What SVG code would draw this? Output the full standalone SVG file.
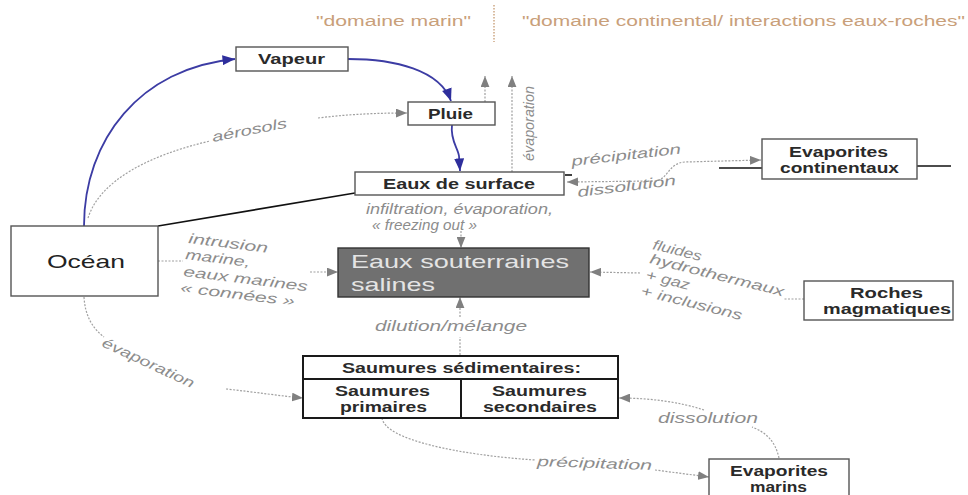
<svg xmlns="http://www.w3.org/2000/svg" width="968" height="495" viewBox="0 0 968 495">
  <style>
    .box { fill: #ffffff; stroke: #555555; stroke-width: 1.4; }
    .tbl { fill: #ffffff; stroke: #1a1a1a; stroke-width: 2; }
    .name { font-family: "Liberation Sans", Arial, sans-serif; font-weight: bold; font-size: 14.5px; fill: #2a2a2a; text-anchor: start; }
    .lbl { font-family: "Liberation Sans", Arial, sans-serif; font-style: italic; font-size: 14px; fill: #8c8c8c; }
    .head { font-family: "Liberation Sans", Arial, sans-serif; font-size: 14px; fill: #c9a07a; }
    .dot { fill: none; stroke: #a0a0a0; stroke-width: 1.2; stroke-dasharray: 2 1.5; }
    .blue { fill: none; stroke: #3c3ca4; stroke-width: 1.8; }
    .solid { fill: none; stroke: #111111; stroke-width: 1.6; }
  </style>
  <defs>
    <marker id="ag" viewBox="0 0 10 8" refX="10" refY="4" markerWidth="11" markerHeight="9" markerUnits="userSpaceOnUse" orient="auto-start-reverse">
      <path d="M0,0 L10,4 L0,8 Z" fill="#808080"/>
    </marker>
    <marker id="ab" viewBox="0 0 10 8" refX="10" refY="4" markerWidth="13" markerHeight="10" markerUnits="userSpaceOnUse" orient="auto">
      <path d="M0,0 L10,4 L0,8 Z" fill="#2e2e9c"/>
    </marker>
  </defs>

  <rect width="968" height="495" fill="#ffffff"/>

  <!-- domain headings -->
  <g id="headings">
    <text class="head" x="316" y="26" textLength="155" lengthAdjust="spacingAndGlyphs">"domaine marin"</text>
    <line x1="494" y1="5" x2="494" y2="42" stroke="#c9a07a" stroke-width="1.4" stroke-dasharray="1.5 1.5"/>
    <text class="head" x="522" y="26" textLength="443" lengthAdjust="spacingAndGlyphs">"domaine continental/ interactions eaux-roches"</text>
  </g>

  <!-- connectors -->
  <g id="connectors">
    <!-- solid boundary lines -->
    <path class="solid" d="M158,226 L355,193"/>
    <path class="solid" d="M565,175 L572,175"/>
    <path class="solid" d="M719,168 L762,168"/>
    <path class="solid" d="M917,166 L951,166"/>

    <!-- water cycle (blue) -->
    <path class="blue" d="M84,226 C84,140 140,68 235,59" marker-end="url(#ab)"/>
    <path class="blue" d="M348,59 C395,59 440,70 451,101" marker-end="url(#ab)"/>
    <path class="blue" d="M452,125 C450,140 458,148 459,156 L460,171" marker-end="url(#ab)"/>

    <!-- aerosols -->
    <path class="dot" d="M88,218 C100,180 150,155 210,141"/>
    <path class="dot" d="M318,118 C350,114 380,113 407,113" marker-end="url(#ag)"/>

    <!-- evaporation upward -->
    <path class="dot" d="M485,102 L485,76" marker-end="url(#ag)"/>
    <path class="dot" d="M512,172 L512,76" marker-end="url(#ag)"/>

    <!-- precipitation / dissolution with continental evaporites -->
    <path class="dot" d="M567,182 L655,181 C668,180 668,163 685,162 L761,160" marker-start="url(#ag)" marker-end="url(#ag)"/>

    <!-- into saline groundwater -->
    <path class="dot" d="M461,231 L461,248" marker-end="url(#ag)"/>
    <path class="dot" d="M158,261 L183,261"/>
    <path class="dot" d="M310,272 L338,272" marker-end="url(#ag)"/>
    <path class="dot" d="M804,299 L784,299"/>
    <path class="dot" d="M640,273 L590,272" marker-end="url(#ag)"/>
    <path class="dot" d="M460,355 L460,337"/>
    <path class="dot" d="M460,317 L460,297" marker-end="url(#ag)"/>

    <!-- ocean evaporation to sedimentary brines -->
    <path class="dot" d="M84,297 C85,315 92,328 104,337"/>
    <path class="dot" d="M226,389 C255,392 280,396 303,398" marker-end="url(#ag)"/>

    <!-- marine evaporites -->
    <path class="dot" d="M382,418 C385,440 460,455 535,460"/>
    <path class="dot" d="M655,470 L709,477" marker-end="url(#ag)"/>
    <path class="dot" d="M779,458 C775,440 765,432 752,427"/>
    <path class="dot" d="M704,410 C680,402 650,398 619,398" marker-end="url(#ag)"/>
  </g>

  <!-- connector labels -->
  <g id="labels">
    <text class="lbl" transform="translate(213,142) rotate(-11)" textLength="76" lengthAdjust="spacingAndGlyphs">aérosols</text>
    <text class="lbl" font-size="15" transform="translate(534,161) rotate(-90)" textLength="75" lengthAdjust="spacingAndGlyphs">évaporation</text>
    <text class="lbl" transform="translate(572,166) rotate(-6.5)" textLength="110" lengthAdjust="spacingAndGlyphs">précipitation</text>
    <text class="lbl" transform="translate(578,197) rotate(-7)" textLength="99" lengthAdjust="spacingAndGlyphs">dissolution</text>
    <text class="lbl" x="366" y="214" textLength="187" lengthAdjust="spacingAndGlyphs">infiltration, évaporation,</text>
    <text class="lbl" x="372" y="230" textLength="105" lengthAdjust="spacingAndGlyphs">« freezing out »</text>
    <text class="lbl" transform="translate(188,243) rotate(7)" textLength="80" lengthAdjust="spacingAndGlyphs">intrusion</text>
    <text class="lbl" transform="translate(185,259) rotate(7)" textLength="65" lengthAdjust="spacingAndGlyphs">marine,</text>
    <text class="lbl" transform="translate(183,276) rotate(7)" textLength="125" lengthAdjust="spacingAndGlyphs">eaux marines</text>
    <text class="lbl" transform="translate(180,292) rotate(7)" textLength="115" lengthAdjust="spacingAndGlyphs">« connées »</text>
    <text class="lbl" transform="translate(652,249) rotate(14)" textLength="50" lengthAdjust="spacingAndGlyphs">fluides</text>
    <text class="lbl" transform="translate(649,263) rotate(14)" textLength="138" lengthAdjust="spacingAndGlyphs">hydrothermaux</text>
    <text class="lbl" transform="translate(645,279) rotate(14)" textLength="45" lengthAdjust="spacingAndGlyphs">+ gaz</text>
    <text class="lbl" transform="translate(640,295) rotate(14)" textLength="104" lengthAdjust="spacingAndGlyphs">+ inclusions</text>
    <text class="lbl" x="375" y="331" textLength="152" lengthAdjust="spacingAndGlyphs">dilution/mélange</text>
    <text class="lbl" transform="translate(101,346) rotate(25)" textLength="100" lengthAdjust="spacingAndGlyphs">évaporation</text>
    <text class="lbl" transform="translate(537,466) rotate(2)" textLength="115" lengthAdjust="spacingAndGlyphs">précipitation</text>
    <text class="lbl" x="658" y="423" textLength="100" lengthAdjust="spacingAndGlyphs">dissolution</text>
  </g>

  <!-- nodes -->
  <g id="vapeur">
    <rect class="box" x="236" y="47" width="112" height="24"/>
    <text class="name" x="258" y="64" textLength="67" lengthAdjust="spacingAndGlyphs">Vapeur</text>
  </g>
  <g id="pluie">
    <rect class="box" x="408" y="102" width="87" height="23"/>
    <text class="name" x="428" y="119" textLength="45" lengthAdjust="spacingAndGlyphs">Pluie</text>
  </g>
  <g id="eaux-de-surface">
    <rect class="box" x="355" y="172" width="209" height="23"/>
    <text class="name" x="383" y="189" textLength="152" lengthAdjust="spacingAndGlyphs">Eaux de surface</text>
  </g>
  <g id="evaporites-continentaux">
    <rect class="box" x="762" y="139" width="155" height="40"/>
    <text class="name" x="789" y="157" textLength="99" lengthAdjust="spacingAndGlyphs">Evaporites</text>
    <text class="name" x="780" y="173" textLength="119" lengthAdjust="spacingAndGlyphs">continentaux</text>
  </g>
  <g id="ocean">
    <rect class="box" x="11" y="226" width="147" height="70"/>
    <text x="47" y="268" font-family="'Liberation Sans', Arial, sans-serif" font-size="19" fill="#222222" textLength="78" lengthAdjust="spacingAndGlyphs">Océan</text>
  </g>
  <g id="eaux-souterraines-salines">
    <rect x="338" y="248" width="251" height="49" fill="#707070" stroke="#333333" stroke-width="1.4"/>
    <text x="351" y="268" font-family="'Liberation Sans', Arial, sans-serif" font-size="19" fill="#e4e4e4" textLength="218" lengthAdjust="spacingAndGlyphs">Eaux souterraines</text>
    <text x="351" y="291" font-family="'Liberation Sans', Arial, sans-serif" font-size="19" fill="#e4e4e4" textLength="84" lengthAdjust="spacingAndGlyphs">salines</text>
  </g>
  <g id="roches-magmatiques">
    <rect class="box" x="804" y="281" width="149" height="39"/>
    <text class="name" x="850" y="298" textLength="73" lengthAdjust="spacingAndGlyphs">Roches</text>
    <text class="name" x="823" y="314" textLength="128" lengthAdjust="spacingAndGlyphs">magmatiques</text>
  </g>
  <g id="saumures-sedimentaires">
    <rect class="tbl" x="303" y="356" width="315" height="62"/>
    <line x1="303" y1="379" x2="618" y2="379" stroke="#1a1a1a" stroke-width="2"/>
    <line x1="461" y1="379" x2="461" y2="418" stroke="#1a1a1a" stroke-width="2"/>
    <text class="name" x="342" y="373" textLength="239" lengthAdjust="spacingAndGlyphs">Saumures sédimentaires:</text>
    <text class="name" x="335" y="396" textLength="95" lengthAdjust="spacingAndGlyphs">Saumures</text>
    <text class="name" x="340" y="412" textLength="87" lengthAdjust="spacingAndGlyphs">primaires</text>
    <text class="name" x="492" y="396" textLength="95" lengthAdjust="spacingAndGlyphs">Saumures</text>
    <text class="name" x="483" y="412" textLength="114" lengthAdjust="spacingAndGlyphs">secondaires</text>
  </g>
  <g id="evaporites-marins">
    <rect class="box" x="709" y="459" width="140" height="45"/>
    <text class="name" x="730" y="476" textLength="98" lengthAdjust="spacingAndGlyphs">Evaporites</text>
    <text class="name" x="750" y="492" textLength="57" lengthAdjust="spacingAndGlyphs">marins</text>
  </g>
</svg>
